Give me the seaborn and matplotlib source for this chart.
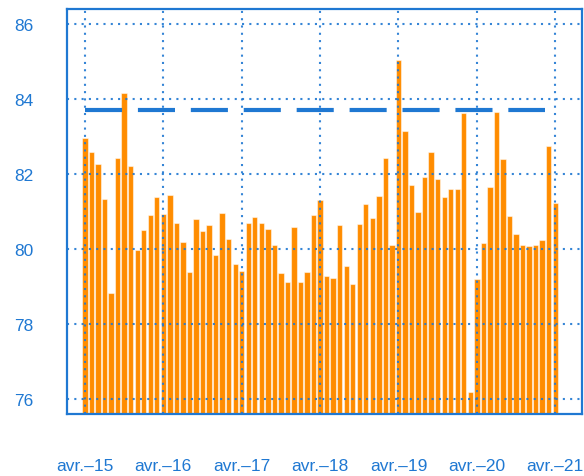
import matplotlib
matplotlib.use('Agg')
import pandas as pd
import seaborn as sns
import matplotlib.pyplot as plt

# mois (avr.-15 -> avr.-21)
mois_fr = ['avr.', 'mai', 'juin', 'juil.', 'août', 'sept.', 'oct.', 'nov.',
           'déc.', 'janv.', 'févr.', 'mars']
months = []
for an in range(15, 21):
    for i, m in enumerate(mois_fr):
        yy = an if i < 9 else an + 1
        months.append(m + '–' + str(yy))
months.append('avr.–21')

values = [82.95, 82.60, 82.27, 81.34, 78.84, 82.44, 84.16, 82.22, 79.98, 80.51,
          80.90, 81.38, 80.94, 81.43, 80.69, 80.18, 79.40, 80.80, 80.49, 80.63,
          79.84, 80.96, 80.27, 79.60, 79.42, 80.69, 80.85, 80.69, 80.54, 80.11,
          79.36, 79.12, 80.59, 79.12, 79.40, 80.91, 81.30, 79.29, 79.23, 80.64,
          79.55, 79.06, 80.68, 81.21, 80.83, 81.41, 82.43, 80.11, 85.04, 83.14,
          81.72, 81.00, 81.93, 82.59, 81.87, 81.39, 81.59, 81.61, 83.62, 76.20,
          79.20, 80.15, 81.65, 83.65, 82.40, 80.88, 80.39, 80.11, 80.08, 80.11,
          80.24, 82.76, 81.23]

objectif = 83.7
objectif_debut = 'avr.–15'
objectif_fin = 'févr.–21'

df = pd.DataFrame({'mois': months, 'valeur': values})

blue = '#1f78d2'
orange = '#ff8c00'

sns.set_style('white')
plt.rcParams['font.family'] = ['Liberation Sans', 'DejaVu Sans']

fig = plt.figure(figsize=(5.84, 4.77), dpi=100)
ax = fig.add_axes([67 / 584, 62 / 477, 515 / 584, 405 / 477])

sns.barplot(data=df, x='mois', y='valeur', color=orange, saturation=1,
            width=0.82, edgecolor=(1, 1, 1, 0.5), linewidth=0.8, ax=ax)

x0 = months.index(objectif_debut)
x1 = months.index(objectif_fin) + 0.5
ax.plot([x0, x1], [objectif, objectif], color=blue, lw=3,
        linestyle=(0, (8.9, 3.8)), solid_capstyle='butt',
        dash_capstyle='butt', zorder=4)

ax.set_ylim(75.6, 86.4)
ax.set_xlim(-2.75, 76.1)
ticks = [i for i, m in enumerate(months) if m.startswith('avr.')]
ax.set_xticks(ticks, [months[i] for i in ticks])
ax.set_yticks(range(76, 87, 2))
ax.tick_params(length=0, colors=blue, labelsize=12.5)
ax.tick_params(axis='x', pad=32)
ax.tick_params(axis='y', pad=24)
ax.set_xlabel('')
ax.set_ylabel('')

ax.grid(True, linestyle=(0, (1, 2.5)), color=blue, lw=1.5, alpha=0.9)
ax.set_axisbelow(False)
for s in ax.spines.values():
    s.set_visible(True)
    s.set_color(blue)
    s.set_linewidth(1.6)

fig.savefig('out.png', dpi=100)
